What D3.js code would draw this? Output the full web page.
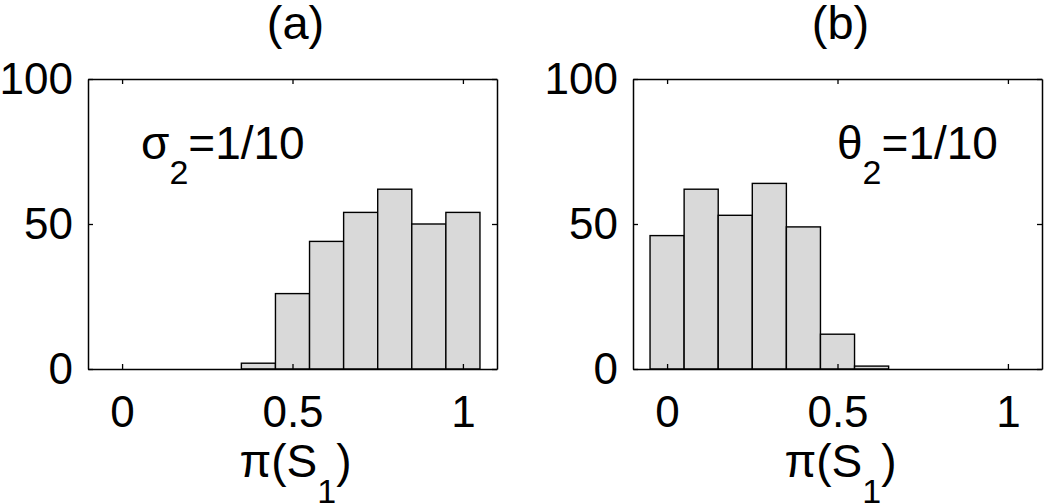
<!DOCTYPE html>
<html>
<head>
<meta charset="utf-8">
<script src="https://cdn.jsdelivr.net/npm/d3@7"></script>
<style>
  body { margin: 0; background: #fff; }
  svg text { font-family: "Liberation Sans", Arial, sans-serif; fill: #000; }
</style>
</head>
<body>
<div id="chart"></div>
<script>
// histogram data
const binWidth = 0.1;
const centersA = [0.4, 0.5, 0.6, 0.7, 0.8, 0.9, 1.0];
const countsA = [2, 26, 44, 54, 62, 50, 54];
const centersB = [0.0, 0.1, 0.2, 0.3, 0.4, 0.5, 0.6];
const countsB = [46, 62, 53, 64, 49, 12, 1];
const xTicks = [0, 0.5, 1];
const yTicks = [0, 50, 100];

const svgWidth = 1050;
const svgHeight = 504;
const boxW = 409;
const boxH = 290;
const boxTop = 79;

const svg = d3.select('#chart')
    .append('svg')
    .attr('width', svgWidth)
    .attr('height', svgHeight);

const panels = [
    { left: 88, title: '(a)', sym: 'σ', annX: 53, centers: centersA, counts: countsA },
    { left: 633, title: '(b)', sym: 'θ', annX: 204, centers: centersB, counts: countsB }
];

panels.forEach(p => {
    const g = svg.append('g')
        .attr('transform', `translate(${p.left},${boxTop})`);

    const x = d3.scaleLinear().domain([-0.1, 1.1]).range([0, boxW]);
    const y = d3.scaleLinear().domain([0, 100]).range([boxH, 0]);

    const bins = p.centers.map((c, i) => ({ c: c, n: p.counts[i] }));

    g.selectAll('rect.bar')
        .data(bins)
        .enter()
        .append('rect')
        .attr('class', 'bar')
        .attr('x', d => x(d.c - binWidth / 2))
        .attr('y', d => y(d.n))
        .attr('width', d => x(d.c + binWidth / 2) - x(d.c - binWidth / 2))
        .attr('height', d => y(0) - y(d.n))
        .attr('fill', '#d9d9d9')
        .attr('stroke', '#000')
        .attr('stroke-width', 1.4);

    // axes, ticks pointing inwards
    const bottom = g.append('g')
        .attr('transform', `translate(0,${boxH})`)
        .call(d3.axisBottom(x).tickValues(xTicks).tickSize(-5).tickSizeOuter(0).tickFormat(d3.format('')));
    bottom.selectAll('text').attr('y', 58).attr('dy', 0);

    const left = g.append('g')
        .call(d3.axisLeft(y).tickValues(yTicks).tickSize(-5).tickSizeOuter(0));
    left.selectAll('text').attr('x', -15).attr('dy', '0.34em');

    g.append('g')
        .call(d3.axisTop(x).tickValues(xTicks).tickSize(-5).tickSizeOuter(0).tickFormat(''));
    g.append('g')
        .attr('transform', `translate(${boxW},0)`)
        .call(d3.axisRight(y).tickValues(yTicks).tickSize(-5).tickSizeOuter(0).tickFormat(''));

    g.selectAll('.domain').attr('stroke', '#000').attr('stroke-width', 1.5);
    g.selectAll('.tick line').attr('stroke', '#000').attr('stroke-width', 1.3);
    g.selectAll('.tick text').style('font-size', '44px').style('font-family', '"Liberation Sans", Arial, sans-serif');

    // title
    g.append('text')
        .attr('x', boxW / 2 + 3)
        .attr('y', 39 - boxTop)
        .attr('text-anchor', 'middle')
        .style('font-size', '47px')
        .text(p.title);

    // x label pi(S_1)
    const xl = g.append('text')
        .attr('x', boxW / 2 + 3)
        .attr('y', 477 - boxTop)
        .attr('text-anchor', 'middle')
        .style('font-size', '46px');
    xl.append('tspan').text('π(S');
    xl.append('tspan').attr('dy', 26).style('font-size', '34px').text('1');
    xl.append('tspan').attr('dy', -26).text(')');

    // annotation
    const an = g.append('text')
        .attr('x', p.annX)
        .attr('y', 159 - boxTop)
        .style('font-size', '46px');
    an.append('tspan').text(p.sym);
    an.append('tspan').attr('dy', 25).style('font-size', '34px').text('2');
    an.append('tspan').attr('dy', -25).text('=1/10');
});
</script>
</body>
</html>
